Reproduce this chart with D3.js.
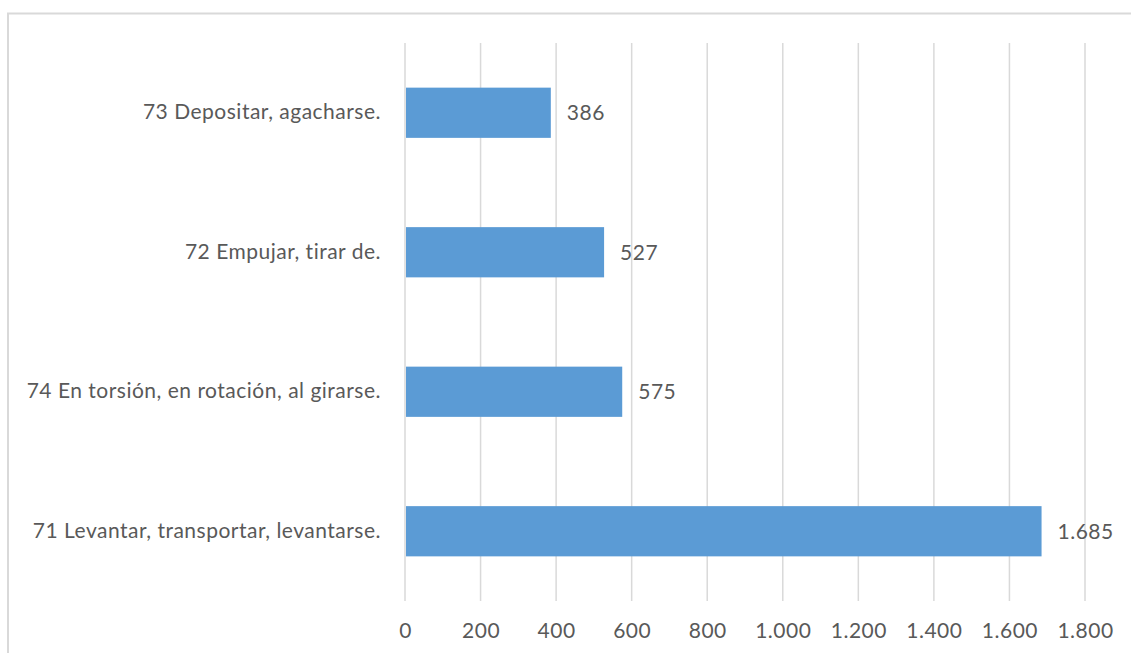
<!DOCTYPE html>
<html>
<head>
<meta charset="utf-8">
<script src="https://cdn.jsdelivr.net/npm/d3@7"></script>
<style>
  body { margin: 0; background: #fff; }
  text { font-family: Lato, "Open Sans", sans-serif; fill: #595959; letter-spacing: 0.5px; }
</style>
</head>
<body>
<div id="chart"></div>
<script>
// Data, top to bottom as shown
const categories = [
    "73 Depositar, agacharse.",
    "72 Empujar, tirar de.",
    "74 En torsión, en rotación, al girarse.",
    "71 Levantar, transportar, levantarse."
];
const values = [386, 527, 575, 1685];
const xTicks = [0, 200, 400, 600, 800, 1000, 1200, 1400, 1600, 1800];

const W = 1131, H = 653;
const margin = { top: 43, right: 46, bottom: 52, left: 405 };
const width = W - margin.left - margin.right;
const height = H - margin.top - margin.bottom;
const fontSize = "21px";

const fmt = d3.formatLocale({ decimal: ",", thousands: ".", grouping: [3], currency: ["", "€"] }).format(",d");

const svgRoot = d3.select("#chart")
    .append("svg")
    .attr("width", W)
    .attr("height", H);

// outer chart border (runs off the right and bottom edges like the original)
svgRoot.append("rect")
    .attr("x", 8)
    .attr("y", 13.5)
    .attr("width", W + 20)
    .attr("height", H + 20)
    .attr("fill", "none")
    .attr("stroke", "#d9d9d9")
    .attr("stroke-width", 2);

const svg = svgRoot.append("g")
    .attr("transform", `translate(${margin.left},${margin.top})`);

const x = d3.scaleLinear().domain([0, 1800]).range([0, width]);
const y = d3.scaleBand().domain(categories).range([0, height]).paddingInner(0.64).paddingOuter(0.32);

// Vertical gridlines
svg.append("g")
    .selectAll("line")
    .data(xTicks)
    .enter()
    .append("line")
    .attr("x1", d => x(d))
    .attr("x2", d => x(d))
    .attr("y1", 0)
    .attr("y2", height)
    .attr("stroke", "#d9d9d9")
    .attr("stroke-width", 1.5);

// X axis labels
const xAxis = svg.append("g")
    .attr("transform", `translate(0,${height})`)
    .call(d3.axisBottom(x).tickValues(xTicks).tickFormat(fmt).tickSize(0).tickPadding(22));
xAxis.select(".domain").remove();
xAxis.selectAll("text")
    .style("font-size", fontSize)
    .style("font-family", null);

// Y axis labels
const yAxis = svg.append("g")
    .call(d3.axisLeft(y).tickSize(0).tickPadding(24));
yAxis.select(".domain").remove();
yAxis.selectAll("text")
    .style("font-size", fontSize)
    .style("font-family", null);

// Bars
svg.selectAll(".bar")
    .data(values)
    .enter()
    .append("rect")
    .attr("class", "bar")
    .attr("x", x(0) + 1)
    .attr("y", (d, i) => y(categories[i]))
    .attr("width", d => x(d) - x(0) - 1)
    .attr("height", y.bandwidth())
    .attr("fill", "#5b9bd5");

// Value labels
svg.selectAll(".value")
    .data(values)
    .enter()
    .append("text")
    .attr("class", "value")
    .attr("x", d => x(d) + 16)
    .attr("y", (d, i) => y(categories[i]) + y.bandwidth() / 2)
    .attr("dy", "0.35em")
    .style("font-size", fontSize)
    .text(d => fmt(d));
</script>
</body>
</html>
